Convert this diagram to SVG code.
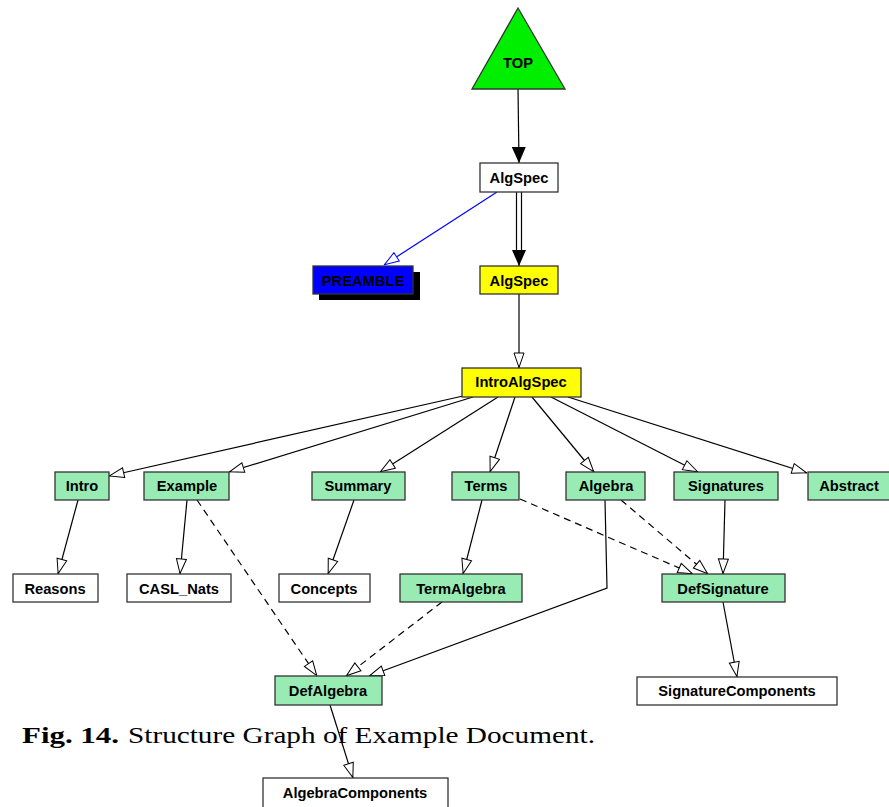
<svg xmlns="http://www.w3.org/2000/svg" width="889" height="807" viewBox="0 0 889 807">
<style>
.n{stroke:#333;stroke-width:1.3}
.w{fill:#fff}
.g{fill:#98ecb3}
.y{fill:#ffff00}
.t{font-family:"Liberation Sans",Arial,sans-serif;font-weight:bold;font-size:14.7px;text-anchor:middle;fill:#000}
.e{fill:none;stroke:#000;stroke-width:1.2}
.d{stroke-dasharray:7,5}
.cap{font-family:"Liberation Serif","Times New Roman",serif;font-size:24px;fill:#000}
</style>
<defs>
<marker id="open" viewBox="0 0 16 12" refX="16" refY="6" markerWidth="16" markerHeight="12" markerUnits="userSpaceOnUse" orient="auto">
<path d="M1,1 L15.5,6 L1,11 z" fill="#fff" stroke="#000" stroke-width="1"/>
</marker>
<marker id="fill" viewBox="0 0 16 14" refX="16" refY="7" markerWidth="16" markerHeight="14" markerUnits="userSpaceOnUse" orient="auto">
<path d="M0,0 L16,7 L0,14 z" fill="#000"/>
</marker>
<marker id="blue" viewBox="0 0 16 12" refX="16" refY="6" markerWidth="16" markerHeight="12" markerUnits="userSpaceOnUse" orient="auto">
<path d="M1,1 L15.5,6 L1,11 z" fill="#fff" stroke="#0000ff" stroke-width="1"/>
</marker>
</defs>
<rect width="889" height="807" fill="#fff"/>
<g id="caption">
<text class="cap" x="22" y="743" font-weight="bold" textLength="97" lengthAdjust="spacingAndGlyphs">Fig. 14.</text>
<text class="cap" x="128" y="743" textLength="467" lengthAdjust="spacingAndGlyphs">Structure Graph of Example Document.</text>
</g>
<g id="connectors">
<line class="e" x1="518" y1="89" x2="519" y2="163" marker-end="url(#fill)"/>
<line class="e" x1="516.5" y1="192" x2="516.5" y2="252"/>
<line class="e" x1="521.5" y1="192" x2="521.5" y2="252"/>
<line class="e" x1="519" y1="250" x2="519" y2="266" marker-end="url(#fill)"/>
<line x1="497" y1="192" x2="384" y2="265" stroke="#0000ff" stroke-width="1.2" marker-end="url(#blue)"/>
<line class="e" x1="519" y1="294" x2="519" y2="368" marker-end="url(#open)"/>
<line class="e" x1="463" y1="396" x2="109" y2="476" marker-end="url(#open)"/>
<line class="e" x1="473" y1="397" x2="229" y2="472" marker-end="url(#open)"/>
<line class="e" x1="498" y1="397" x2="380" y2="472" marker-end="url(#open)"/>
<line class="e" x1="515" y1="397" x2="490" y2="472" marker-end="url(#open)"/>
<line class="e" x1="532" y1="397" x2="594" y2="472" marker-end="url(#open)"/>
<line class="e" x1="551" y1="397" x2="698" y2="472" marker-end="url(#open)"/>
<line class="e" x1="568" y1="397" x2="807" y2="473" marker-end="url(#open)"/>
<line class="e" x1="78" y1="500" x2="58" y2="574" marker-end="url(#open)"/>
<line class="e" x1="187" y1="500" x2="180" y2="574" marker-end="url(#open)"/>
<line class="e" x1="354" y1="500" x2="328" y2="574" marker-end="url(#open)"/>
<line class="e" x1="482" y1="500" x2="463" y2="574" marker-end="url(#open)"/>
<line class="e" x1="725" y1="500" x2="723" y2="574" marker-end="url(#open)"/>
<line class="e d" x1="520" y1="499" x2="693" y2="574" marker-end="url(#open)"/>
<line class="e d" x1="621" y1="500" x2="708" y2="574" marker-end="url(#open)"/>
<line class="e d" x1="197" y1="500" x2="317" y2="676" marker-end="url(#open)"/>
<line class="e d" x1="442" y1="602" x2="346" y2="676" marker-end="url(#open)"/>
<polyline class="e" points="605,500 607,588 369,676" marker-end="url(#open)"/>
<line class="e" x1="723" y1="602" x2="737" y2="677" marker-end="url(#open)"/>
<line class="e" x1="330" y1="705" x2="353" y2="778" marker-end="url(#open)"/>
</g>
<g id="TOP">
<polygon points="518,8 565,89 472,89" fill="#00ee00" stroke="#333" stroke-width="1.3"/>
<text class="t" x="518" y="68">TOP</text>
</g>
<g id="AlgSpec1"><rect class="n w" x="480" y="163" width="78" height="29"/><text class="t" x="519" y="183">AlgSpec</text></g>
<g id="PREAMBLE">
<rect x="319" y="272" width="101" height="28" fill="#000"/>
<rect x="313" y="266" width="100" height="28" fill="#0000ff" stroke="#333" stroke-width="1.3"/>
<text class="t" x="363" y="286">PREAMBLE</text>
</g>
<g id="AlgSpec2"><rect class="n y" x="480" y="266" width="78" height="28"/><text class="t" x="519" y="286">AlgSpec</text></g>
<g id="IntroAlgSpec"><rect class="n y" x="462" y="368" width="119" height="29"/><text class="t" x="521" y="387">IntroAlgSpec</text></g>
<g id="Intro"><rect class="n g" x="55" y="472" width="54" height="28"/><text class="t" x="82" y="491">Intro</text></g>
<g id="Example"><rect class="n g" x="144" y="472" width="85" height="28"/><text class="t" x="187" y="491">Example</text></g>
<g id="Summary"><rect class="n g" x="312" y="472" width="93" height="28"/><text class="t" x="358" y="491">Summary</text></g>
<g id="Terms"><rect class="n g" x="452" y="472" width="67" height="28"/><text class="t" x="486" y="491">Terms</text></g>
<g id="Algebra"><rect class="n g" x="566" y="472" width="79" height="28"/><text class="t" x="606" y="491">Algebra</text></g>
<g id="Signatures"><rect class="n g" x="674" y="472" width="104" height="28"/><text class="t" x="726" y="491">Signatures</text></g>
<g id="Abstract"><rect class="n g" x="808" y="472" width="84" height="28"/><text class="t" x="849" y="491">Abstract</text></g>
<g id="Reasons"><rect class="n w" x="13" y="574" width="85" height="28"/><text class="t" x="55" y="594">Reasons</text></g>
<g id="CASL_Nats"><rect class="n w" x="127" y="574" width="104" height="28"/><text class="t" x="179" y="594">CASL_Nats</text></g>
<g id="Concepts"><rect class="n w" x="279" y="574" width="91" height="28"/><text class="t" x="324" y="594">Concepts</text></g>
<g id="TermAlgebra"><rect class="n g" x="400" y="574" width="122" height="28"/><text class="t" x="461" y="594">TermAlgebra</text></g>
<g id="DefSignature"><rect class="n g" x="662" y="574" width="123" height="28"/><text class="t" x="723" y="594">DefSignature</text></g>
<g id="DefAlgebra"><rect class="n g" x="275" y="676" width="107" height="29"/><text class="t" x="328" y="696">DefAlgebra</text></g>
<g id="SignatureComponents"><rect class="n w" x="637" y="677" width="200" height="28"/><text class="t" x="737" y="696">SignatureComponents</text></g>
<g id="AlgebraComponents"><rect class="n w" x="263" y="778" width="185" height="30"/><text class="t" x="355" y="798">AlgebraComponents</text></g>
</svg>
